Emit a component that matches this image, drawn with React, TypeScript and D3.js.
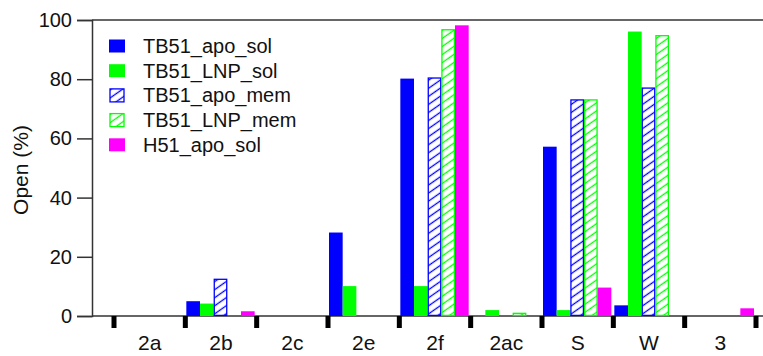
import React, { useEffect, useRef } from "react";
import * as d3 from "d3";

const CHART_WIDTH = 763;
const CHART_HEIGHT = 356;

const categories = ["2a", "2b", "2c", "2e", "2f", "2ac", "S", "W", "3"];
const seriesNames = ["TB51_apo_sol", "TB51_LNP_sol", "TB51_apo_mem", "TB51_LNP_mem", "H51_apo_sol"];
const seriesColors = ["#0000ff", "#00ff00", "#0000ff", "#00ff00", "#ff00ff"];
const seriesHatched = [false, false, true, true, false];

const tb51ApoSol = [0, 5, 0, 28.2, 80.2, 0, 57.2, 3.6, 0];
const tb51LnpSol = [0, 4.2, 0, 10.1, 10.1, 2, 2, 96.1, 0];
const tb51ApoMem = [0, 12.6, 0, 0, 80.6, 0, 73.2, 77.2, 0];
const tb51LnpMem = [0, 0, 0, 0, 96.9, 1.1, 73.2, 94.9, 0];
const h51ApoSol = [0, 1.6, 0, 0, 98.2, 0, 9.6, 0, 2.6];

const yTicks = [0, 20, 40, 60, 80, 100];

const App: React.FC = () => {
  const ref = useRef<SVGSVGElement>(null);

  useEffect(() => {
    if (!ref.current) return;
    const svg = d3.select(ref.current);
    svg.selectAll("*").remove();

    const seriesValues = [tb51ApoSol, tb51LnpSol, tb51ApoMem, tb51LnpMem, h51ApoSol];
    const font = "'Liberation Sans', Arial, sans-serif";
    const axisColor = "#333";

    const left = 92;
    const top = 20;
    const bottom = 316;

    const y = d3.scaleLinear().domain([0, 100]).range([bottom, top]);
    const x0 = d3.scaleBand<string>().domain(categories).range([114, 756]).padding(0);
    const x1 = d3
      .scaleBand<number>()
      .domain(d3.range(seriesNames.length))
      .range([1, x0.bandwidth() - 2])
      .padding(0);

    // hatch patterns
    const defs = svg.append("defs");
    seriesColors.forEach((c, i) => {
      if (!seriesHatched[i]) return;
      const p = defs
        .append("pattern")
        .attr("id", `hatch${i}`)
        .attr("patternUnits", "userSpaceOnUse")
        .attr("width", 6.6)
        .attr("height", 6.6)
        .attr("patternTransform", "rotate(-35)");
      p.append("rect").attr("width", 6.6).attr("height", 6.6).attr("fill", "white");
      p.append("line")
        .attr("x1", 0)
        .attr("x2", 6.6)
        .attr("y1", 3.3)
        .attr("y2", 3.3)
        .attr("stroke", c)
        .attr("stroke-width", 1.3);
    });

    // frame lines
    svg.append("line")
      .attr("x1", left).attr("x2", CHART_WIDTH + 2)
      .attr("y1", y(100)).attr("y2", y(100))
      .attr("stroke", axisColor).attr("stroke-width", 1.5);
    svg.append("line")
      .attr("x1", left).attr("x2", CHART_WIDTH + 2)
      .attr("y1", y(0)).attr("y2", y(0))
      .attr("stroke", axisColor).attr("stroke-width", 1.5);

    // y axis
    const yAxis = svg
      .append("g")
      .attr("transform", `translate(${left},0)`)
      .call(d3.axisLeft(y).tickValues(yTicks).tickSize(15).tickPadding(5));
    yAxis.select(".domain").attr("stroke", axisColor).attr("stroke-width", 1.5);
    yAxis.selectAll(".tick line").attr("stroke", axisColor).attr("stroke-width", 1.5);
    yAxis.selectAll("text")
      .attr("fill", "#111")
      .style("font-family", font)
      .style("font-size", "20px");

    svg.append("text")
      .attr("transform", `translate(28,${(top + bottom) / 2 + 2}) rotate(-90)`)
      .attr("text-anchor", "middle")
      .attr("fill", "#111")
      .style("font-family", font)
      .style("font-size", "21px")
      .text("Open (%)");

    // bars
    categories.forEach((cat, ci) => {
      const g = svg.append("g").attr("transform", `translate(${x0(cat)},0)`);
      seriesValues.forEach((vals, si) => {
        const v = vals[ci];
        if (!v) return;
        const hatched = seriesHatched[si];
        g.append("rect")
          .attr("x", (x1(si) as number) + (hatched ? 0.6 : 0))
          .attr("y", y(v) + (hatched ? 0.6 : 0))
          .attr("width", x1.bandwidth() - (hatched ? 1.2 : 0))
          .attr("height", Math.max(0, y(0) - y(v) - (hatched ? 1.2 : 0)))
          .attr("fill", hatched ? `url(#hatch${si})` : seriesColors[si])
          .attr("stroke", hatched ? seriesColors[si] : "none")
          .attr("stroke-width", 1.3);
      });
    });

    // x axis boundary ticks
    const boundaries = categories.map((c) => x0(c) as number).concat([x0.range()[1]]);
    svg.selectAll("rect.xtick")
      .data(boundaries)
      .enter()
      .append("rect")
      .attr("class", "xtick")
      .attr("x", (d) => d - 2.5)
      .attr("y", y(0))
      .attr("width", 5)
      .attr("height", 12)
      .attr("fill", "#000");

    svg.selectAll("text.xlabel")
      .data(categories)
      .enter()
      .append("text")
      .attr("class", "xlabel")
      .attr("x", (d) => (x0(d) as number) + x0.bandwidth() / 2)
      .attr("y", 350)
      .attr("text-anchor", "middle")
      .attr("fill", "#111")
      .style("font-family", font)
      .style("font-size", "21px")
      .text((d) => d);

    // legend
    const legend = svg.append("g").attr("transform", "translate(108,46)");
    seriesNames.forEach((name, i) => {
      const row = legend.append("g").attr("transform", `translate(0,${i * 24.7})`);
      if (seriesHatched[i]) {
        row.append("rect")
          .attr("x", 2).attr("y", -6.5)
          .attr("width", 14).attr("height", 13)
          .attr("fill", `url(#hatch${i})`)
          .attr("stroke", seriesColors[i])
          .attr("stroke-width", 1.3);
      } else {
        row.append("rect")
          .attr("x", 1).attr("y", -6.5)
          .attr("width", 16).attr("height", 13)
          .attr("fill", seriesColors[i]);
      }
      row.append("text")
        .attr("x", 35)
        .attr("y", 7)
        .attr("fill", "#111")
        .style("font-family", font)
        .style("font-size", "20px")
        .text(name);
    });
  }, []);

  return (
    <svg
      ref={ref}
      width={CHART_WIDTH}
      height={CHART_HEIGHT}
      style={{ position: "absolute", left: 0, top: 0, display: "block", background: "white" }}
    />
  );
};

export default App;
